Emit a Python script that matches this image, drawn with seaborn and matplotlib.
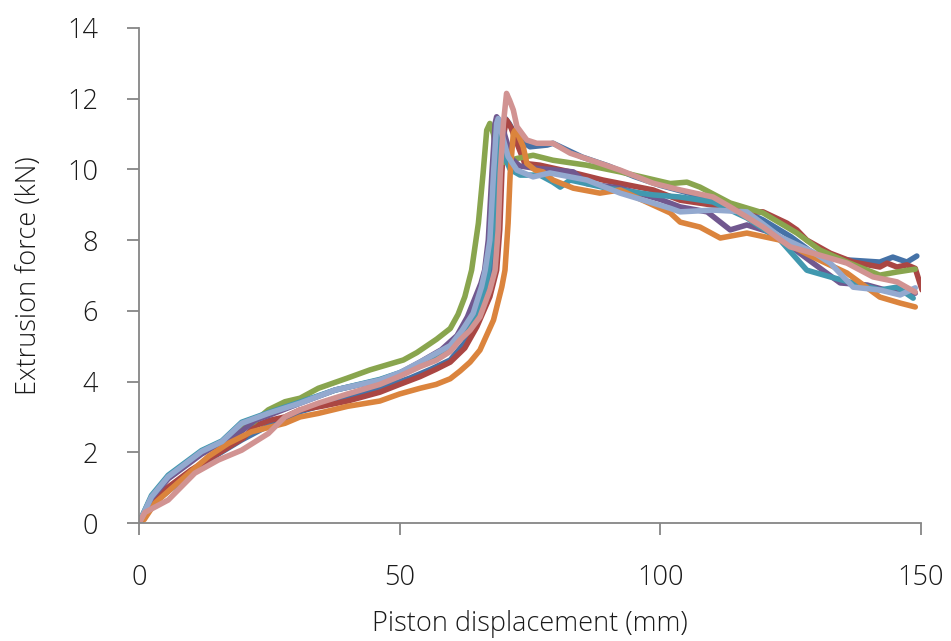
import numpy as np
import pandas as pd
import matplotlib
matplotlib.use("Agg")
import matplotlib.pyplot as plt
import seaborn as sns

# ---- data ----
blue_x = [0, 2, 5.6, 10.7, 15.2, 19.7, 24.8, 28, 30.9, 34.4, 40, 46.2, 52, 56, 59.7, 62.5, 65.3, 67, 67.8, 68.5, 69, 69.6, 70.2, 71, 72.5, 75, 78.3, 79.4, 85, 90, 95, 100, 105, 110, 115, 119.7, 125, 129.3, 135.8, 140, 142.1, 144.6, 147.3, 149.2]
blue_y = [0, 0.45, 0.9, 1.5, 1.95, 2.35, 2.75, 2.95, 3.15, 3.3, 3.55, 3.8, 4.1, 4.35, 4.61, 5.1, 5.9, 6.7, 7.15, 8.3, 9.89, 11.1, 11.45, 11.3, 10.9, 10.64, 10.69, 10.74, 10.35, 10.1, 9.8, 9.55, 9.35, 9.15, 8.9, 8.57, 8.1, 7.63, 7.44, 7.4, 7.38, 7.52, 7.38, 7.55]

red_x = [0, 2, 5, 10, 15, 20, 22.3, 25, 28, 30.9, 35, 40, 46.2, 50, 53.9, 57, 59.7, 62.5, 64.8, 67.3, 68.6, 69.2, 69.6, 70.1, 70.5, 71.3, 72.5, 74, 76.9, 82.7, 89, 98.6, 103.8, 110.1, 116.6, 119.7, 124.3, 126.2, 128.1, 132.6, 137, 142.1, 143.5, 145.4, 147.3, 148.9, 150.2]
red_y = [0, 0.55, 0.95, 1.5, 1.95, 2.4, 2.75, 2.9, 3.0, 3.2, 3.3, 3.45, 3.7, 3.92, 4.14, 4.35, 4.55, 4.95, 5.55, 6.4, 7.15, 8.3, 9.89, 11.1, 11.4, 11.2, 10.74, 10.17, 10.12, 9.93, 9.7, 9.42, 9.13, 8.99, 8.8, 8.8, 8.48, 8.29, 8.0, 7.63, 7.38, 7.24, 7.35, 7.24, 7.3, 7.2, 6.59]

green_x = [0, 2.4, 5.6, 12, 15.9, 19.7, 22, 24.8, 28, 30.9, 34.4, 40, 44.3, 50.7, 53.3, 57.1, 59.7, 61.2, 62.5, 63.8, 65.1, 66.0, 66.7, 67.3, 68.0, 68.7, 70, 72.5, 75.6, 79.4, 85.9, 92.3, 101.9, 105.1, 107.6, 113.4, 119.7, 126.2, 130.6, 135.8, 142.1, 145.4, 148.9]
green_y = [0, 0.74, 1.3, 2.0, 2.3, 2.7, 2.85, 3.2, 3.43, 3.53, 3.81, 4.1, 4.33, 4.61, 4.82, 5.2, 5.5, 5.9, 6.4, 7.15, 8.48, 9.89, 11.11, 11.3, 11.0, 10.27, 10.2, 10.31, 10.4, 10.26, 10.12, 9.93, 9.6, 9.64, 9.5, 9.05, 8.77, 8.2, 7.72, 7.38, 7.01, 7.1, 7.18]

purple_x = [0, 2.4, 5.6, 12, 15.9, 19.7, 22.3, 25, 30.9, 37.6, 46.2, 50, 53.9, 58, 61, 63, 65.6, 66.3, 67, 67.7, 68.3, 68.6, 69.5, 70.5, 71.5, 73, 75.6, 80, 83.3, 85.9, 92.3, 100, 103.8, 109, 113.4, 116.6, 121.6, 129.3, 134.5, 139.7, 144.6, 148.9]
purple_y = [0, 0.7, 1.25, 1.95, 2.28, 2.6, 2.91, 3.05, 3.39, 3.76, 4.04, 4.24, 4.55, 4.9, 5.3, 5.83, 6.78, 7.15, 8.0, 9.89, 11.3, 11.49, 11.3, 10.8, 10.3, 10.1, 10.04, 9.98, 9.93, 9.6, 9.47, 9.15, 8.94, 8.8, 8.29, 8.43, 8.2, 7.35, 6.79, 6.73, 6.53, 6.5]

teal_x = [0, 2.4, 5.6, 12, 15.9, 19.7, 24.8, 30.9, 37.6, 46.2, 50, 55, 59.7, 62.5, 64.5, 66.6, 67, 67.8, 68.5, 69, 69.5, 70.3, 71.2, 73.1, 76.9, 79.4, 80.8, 82.7, 89.8, 98.6, 103.8, 110.1, 116.6, 123, 128.1, 132.6, 137, 142.1, 145.4, 148.5]
teal_y = [0, 0.78, 1.35, 2.05, 2.32, 2.85, 3.12, 3.42, 3.76, 4.06, 4.25, 4.55, 4.95, 5.35, 5.83, 6.78, 7.15, 8.0, 9.89, 11.2, 11.0, 10.3, 10.0, 9.84, 9.84, 9.64, 9.5, 9.7, 9.47, 9.28, 9.22, 9.08, 8.63, 8.0, 7.15, 6.96, 6.79, 6.59, 6.67, 6.36]

orange_x = [0, 1, 3.1, 8.8, 13.3, 17.1, 21.6, 28, 30.9, 34.4, 40, 46.2, 50, 53.9, 57, 59.7, 61.6, 63.5, 65.4, 68, 69.6, 70.2, 70.8, 71.2, 71.8, 72.1, 72.8, 73.7, 74.4, 76, 77.5, 79.4, 83.3, 88.4, 92.3, 101.9, 103.8, 107.6, 111.5, 116.6, 123, 129.3, 135.8, 142.1, 146, 148.9]
orange_y = [0, 0.1, 0.57, 1.31, 1.88, 2.25, 2.58, 2.82, 3.0, 3.1, 3.3, 3.45, 3.65, 3.81, 3.92, 4.08, 4.3, 4.55, 4.89, 5.74, 6.68, 7.15, 8.48, 9.89, 11.02, 11.1, 10.95, 10.64, 10.17, 9.98, 9.93, 9.7, 9.47, 9.33, 9.42, 8.77, 8.51, 8.37, 8.06, 8.2, 8.0, 7.52, 7.07, 6.39, 6.22, 6.11]

lightblue_x = [0, 2.4, 5.6, 12, 15.9, 19.7, 24.8, 30.9, 37.6, 46.2, 50, 53.9, 57, 59.7, 62, 64.1, 65.7, 66.4, 67.3, 68, 68.6, 68.9, 69.6, 70.8, 72.5, 75.6, 78.8, 85.9, 92.3, 101.9, 103.8, 110.1, 116.6, 123, 129.3, 132.6, 137, 142.1, 146, 148.9]
lightblue_y = [0, 0.74, 1.31, 2.02, 2.3, 2.82, 3.1, 3.39, 3.76, 4.04, 4.25, 4.55, 4.8, 5.02, 5.45, 5.93, 6.68, 7.15, 8.0, 9.89, 11.3, 11.44, 11.0, 10.36, 9.98, 9.79, 9.9, 9.7, 9.33, 8.9, 8.8, 8.85, 8.8, 8.09, 7.66, 7.35, 6.67, 6.59, 6.45, 6.65]

pink_x = [0, 1.15, 5.6, 10.7, 15.2, 19.7, 24.8, 28, 30.9, 34.4, 40, 46.2, 50, 53.9, 57, 59.7, 61.6, 63.5, 65.4, 67.3, 68.3, 68.9, 69.3, 69.9, 70.5, 71.1, 71.8, 72.5, 74.4, 76.3, 79.4, 82.7, 87.9, 92.3, 98.6, 103.8, 110.1, 113.4, 119.7, 124.9, 129.3, 135.8, 140.8, 145.4, 148.9]
pink_y = [0, 0.3, 0.65, 1.41, 1.78, 2.06, 2.53, 3.0, 3.2, 3.39, 3.65, 3.92, 4.15, 4.42, 4.6, 4.85, 5.18, 5.45, 5.83, 6.59, 7.15, 8.3, 9.89, 11.3, 12.15, 11.95, 11.68, 11.21, 10.83, 10.74, 10.74, 10.46, 10.2, 9.98, 9.61, 9.42, 9.22, 8.94, 8.37, 7.81, 7.63, 7.35, 6.96, 6.82, 6.53]

series_names = ["S1", "S2", "S3", "S4", "S5", "S6", "S7", "S8"]
series_x = [blue_x, red_x, green_x, purple_x, teal_x, orange_x, lightblue_x, pink_x]
series_y = [blue_y, red_y, green_y, purple_y, teal_y, orange_y, lightblue_y, pink_y]
colors = ["#4572A7", "#AA4643", "#89A54E", "#71588F", "#4198AF", "#DB843D", "#93A9CF", "#D19392"]

x_ticks = [0, 50, 100, 150]
y_ticks = [0, 2, 4, 6, 8, 10, 12, 14]
x_label = "Piston displacement (mm)"
y_label = "Extrusion force (kN)"

# ---- build long table ----
frames = []
for name, xs, ys in zip(series_names, series_x, series_y):
    frames.append(pd.DataFrame({"x": xs, "y": ys, "series": name}))
df = pd.concat(frames, ignore_index=True)

sns.set_style("white")
plt.rcParams['font.family'] = ['Open Sans', 'DejaVu Sans']
plt.rcParams['font.weight'] = 'light'

fig = plt.figure(figsize=(9.51, 6.41), dpi=100)
ax = fig.add_axes([139 / 951, 1 - 523 / 641, (921 - 139) / 951, (523 - 28) / 641])

sns.lineplot(data=df, x="x", y="y", hue="series", palette=colors, sort=False,
             estimator=None, legend=False, linewidth=4.0, ax=ax,
             solid_joinstyle="round", solid_capstyle="round")

ax.set_xlim(0, 150)
ax.set_ylim(0, 14)
ax.set_xticks(x_ticks)
ax.set_yticks(y_ticks)
ax.set_xticklabels([str(t) for t in x_ticks])
ax.set_yticklabels([str(t) for t in y_ticks])

for s in ["top", "right"]:
    ax.spines[s].set_visible(False)
for s in ["left", "bottom"]:
    ax.spines[s].set_color("#868686")
    ax.spines[s].set_linewidth(1.3)

ax.tick_params(axis="both", which="major", direction="out", length=8.5, width=1.3,
               color="#868686", labelsize=19.5, labelcolor="#1a1a1a", pad=21)
ax.tick_params(axis="x", bottom=True)
ax.tick_params(axis="y", left=True)

ax.set_xlabel(x_label, fontsize=19.5, color="#1a1a1a", labelpad=13, fontweight="light")
ax.set_ylabel(y_label, fontsize=19.5, color="#1a1a1a", labelpad=17, fontweight="light")
for lab in ax.get_xticklabels() + ax.get_yticklabels():
    lab.set_fontweight("light")
ax.grid(False)

fig.savefig("out.png", dpi=100)
